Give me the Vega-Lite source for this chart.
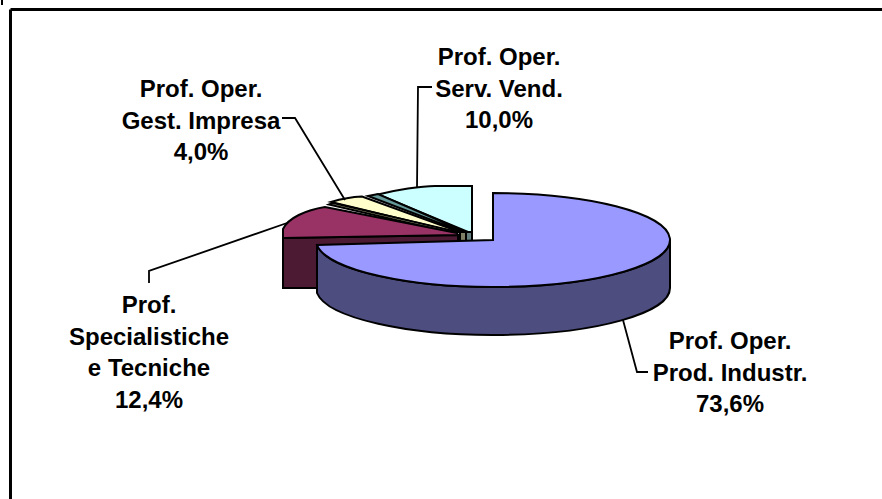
{"$schema":"https://vega.github.io/schema/vega-lite/v6.json","width":872,"height":490,"autosize":{"type":"none"},"padding":{"left":10,"top":9,"right":0,"bottom":0},"background":"white","view":{"stroke":null},"data":{"values":[{"slice":"Prof. Oper.\nServ. Vend.","share":10.0},{"slice":"Altro A","share":null},{"slice":"Prof. Oper.\nGest. Impresa","share":4.0},{"slice":"Altro B","share":null},{"slice":"Prof.\nSpecialistiche\ne Tecniche","share":12.4},{"slice":"Prof. Oper.\nProd. Industr.","share":73.6}]},"layer":[{"mark":{"type":"point","opacity":0},"encoding":{"x":{"field":"share","type":"quantitative","axis":{"orient":"top","domain":true,"domainColor":"black","domainWidth":3,"ticks":false,"labels":false,"grid":false,"title":null}},"y":{"field":"share","type":"quantitative","axis":{"orient":"left","domain":true,"domainColor":"black","domainWidth":3,"ticks":false,"labels":false,"grid":false,"title":null}}}},{"transform":[{"filter":"datum.slice !== 'Prof. Oper.\\nServ. Vend.' && datum.slice !== 'Prof. Oper.\\nGest. Impresa'"}],"mark":{"type":"point","filled":true,"opacity":1,"size":4,"stroke":"black","strokeWidth":2,"strokeJoin":"miter"},"encoding":{"shape":{"field":"slice","type":"nominal","legend":null,"scale":{"domain":["Altro A","Altro B","Prof.\nSpecialistiche\ne Tecniche","Prof. Oper.\nProd. Industr."],"range":["M20,-22 L26,-22 L26,-13 L20,-13 Z","M14,-22 L20,-22 L20,-13 L14,-13 Z","M-163,-16 L-163,34 L-126,34 L-126,-5 L12,-10 L12,-19 Z","M224,-14 A177 47 0 0 1 -129,-9 L-129,39 A177 47 0 0 0 224,34 Z"]}},"color":{"field":"slice","type":"nominal","legend":null,"scale":{"domain":["Altro A","Altro B","Prof.\nSpecialistiche\ne Tecniche","Prof. Oper.\nProd. Industr."],"range":["#668080","#808066","#4D1A33","#4D4D80"]}}}},{"mark":{"type":"point","filled":true,"opacity":1,"size":4,"stroke":"black","strokeWidth":2,"strokeJoin":"miter"},"encoding":{"shape":{"field":"slice","type":"nominal","legend":null,"scale":{"domain":["Prof. Oper.\nServ. Vend.","Altro A","Prof. Oper.\nGest. Impresa","Altro B","Prof.\nSpecialistiche\ne Tecniche","Prof. Oper.\nProd. Industr."],"range":["M26,-68 L-11,-68 C-25,-68 -50,-64 -68,-59.5 L22,-22 L26,-22 Z","M-78,-58 L-68,-60 L20,-22 L17,-22 Z","M-115,-52 C-105,-55 -95,-57 -84,-57.5 L14,-22 L9,-22 Z","M-117,-49.5 L-113,-51 L12,-22 L10,-20 Z","M-163,-16 L-163,-25 C-158,-36 -140,-44 -121,-47 L11,-21 L12,-19 Z","M47,-14 L47,-61 A177 47 0 1 1 -129,-9 Z"]}},"color":{"field":"slice","type":"nominal","legend":null,"scale":{"domain":["Prof. Oper.\nServ. Vend.","Altro A","Prof. Oper.\nGest. Impresa","Altro B","Prof.\nSpecialistiche\ne Tecniche","Prof. Oper.\nProd. Industr."],"range":["#CCFFFF","#669999","#FFFFCC","#CCCC99","#993366","#9999FF"]}}}},{"transform":[{"filter":"isValid(datum.share)"}],"mark":{"type":"point","filled":false,"opacity":1,"size":4,"stroke":"black","strokeWidth":1.8,"strokeJoin":"miter"},"encoding":{"shape":{"field":"slice","type":"nominal","legend":null,"scale":{"domain":["Prof. Oper.\nServ. Vend.","Prof. Oper.\nGest. Impresa","Prof.\nSpecialistiche\ne Tecniche","Prof. Oper.\nProd. Industr."],"range":["M-14,-167 L-28,-167 L-29,-66","M-164,-136 L-151,-136 L-101,-54","M-159,-31 L-297,17 L-297,29","M177,66 L191,118 L202,118"]}}}},{"transform":[{"filter":"isValid(datum.share)"},{"calculate":"datum.slice + '\\n' + replace(format(datum.share, '.1f'), '.', ',') + '%'","as":"label"}],"mark":{"type":"text","font":"Liberation Sans","fontWeight":"bold","fontSize":24,"lineBreak":"\n","lineHeight":31.5,"align":"center","baseline":"middle","color":"black"},"encoding":{"text":{"field":"label","type":"nominal"},"x":{"field":"share","type":"quantitative","axis":null,"scale":{"domain":[4,10,12.4,73.6],"range":[191,489,139,720],"zero":false,"nice":false}},"y":{"field":"share","type":"quantitative","axis":null,"scale":{"domain":[4,10,12.4,73.6],"range":[81,49,297,333],"zero":false,"nice":false}}}},{"data":{"values":[{"note":"corner mark"}]},"mark":{"type":"point","filled":true,"opacity":1,"size":4,"color":"black","shape":"M-445,-254 L-443,-254 L-443,-249 L-445,-249 Z"},"encoding":{}}],"resolve":{"scale":{"x":"independent","y":"independent","shape":"independent","color":"independent"},"axis":{"x":"independent","y":"independent"}}}
